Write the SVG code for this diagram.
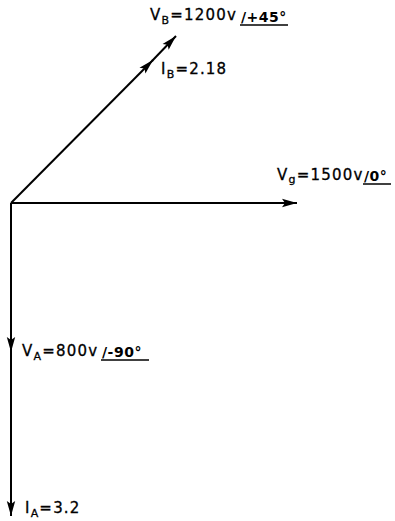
<svg xmlns="http://www.w3.org/2000/svg" width="395" height="521" viewBox="0 0 395 521">
<style>
.t{font-family:"DejaVu Sans","Liberation Sans",sans-serif;font-size:15px;fill:#000;stroke:#000;stroke-width:0.3;letter-spacing:1.2px;}
.s{font-size:11px;}
.a{font-family:"DejaVu Sans","Liberation Sans",sans-serif;font-size:14px;font-weight:bold;fill:#000;letter-spacing:0.5px;}
.ph{stroke:#000;stroke-width:2;fill:none;}
.ul{stroke:#000;stroke-width:1.5;}
</style>
<defs>
<marker id="ah" markerUnits="userSpaceOnUse" markerWidth="16" markerHeight="10" refX="15" refY="5" orient="auto">
<path d="M0,0.8 L15,5 L0,9.2 L3,5 Z" fill="#000"/>
</marker>
</defs>
<rect width="395" height="521" fill="#fff"/>
<g id="connectors">
<line class="ph" x1="11" y1="203" x2="297" y2="203" marker-end="url(#ah)"/>
<line class="ph" x1="11" y1="203" x2="11" y2="352" marker-end="url(#ah)"/>
<line class="ph" x1="11" y1="350" x2="11" y2="516" marker-end="url(#ah)"/>
<line class="ph" x1="11" y1="203" x2="153" y2="60" marker-end="url(#ah)"/>
<line class="ph" x1="152" y1="61" x2="176" y2="36" marker-end="url(#ah)"/>
</g>
<g id="VB">
<text class="t" x="150" y="20">V<tspan class="s" dy="4">B</tspan><tspan dy="-4">=1200v</tspan></text>
<text class="a" x="241" y="22">/+45°</text>
<line class="ul" x1="240" y1="25" x2="288" y2="25"/>
</g>
<g id="IB">
<text class="t" x="161" y="74">I<tspan class="s" dy="4">B</tspan><tspan dy="-4">=2.18</tspan></text>
</g>
<g id="Vg">
<text class="t" x="277" y="180">V<tspan class="s" dy="3">g</tspan><tspan dy="-3">=1500v</tspan></text>
<text class="a" x="364" y="181">/0°</text>
<line class="ul" x1="363" y1="184" x2="391" y2="184"/>
</g>
<g id="VA">
<text class="t" x="22" y="356">V<tspan class="s" dy="4">A</tspan><tspan dy="-4">=800v</tspan></text>
<text class="a" x="102" y="357">/-90°</text>
<line class="ul" x1="101" y1="360" x2="149" y2="360"/>
</g>
<g id="IA">
<text class="t" x="25" y="513">I<tspan class="s" dy="4">A</tspan><tspan dy="-4">=3.2</tspan></text>
</g>
</svg>
